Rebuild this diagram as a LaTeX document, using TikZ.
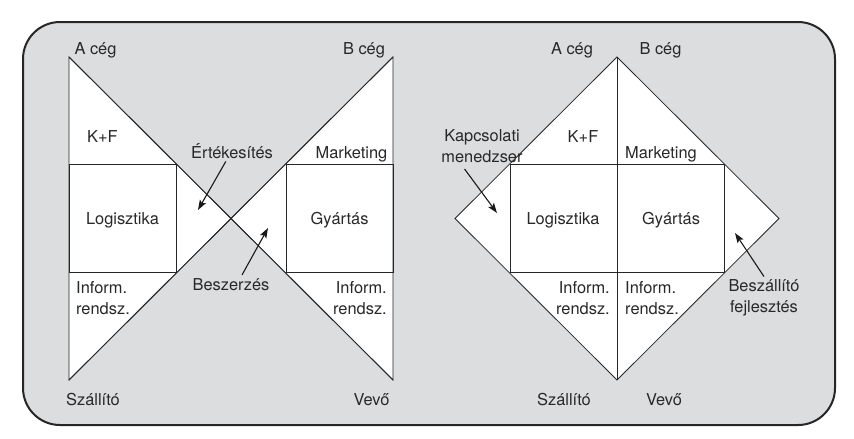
\documentclass[tikz,border=0pt]{standalone}
\usepackage{fontspec}
\setmainfont{TeX Gyre Heros}
\usetikzlibrary{arrows.meta,positioning}
\definecolor{bggray}{RGB}{220,221,223}
\definecolor{txtgray}{RGB}{40,40,40}

\begin{document}
\begin{tikzpicture}[x=1pt, y=-1pt,
  lbl/.style={font=\fontsize{16.4}{21}\selectfont, text=txtgray, inner sep=3pt},
  outerframe/.style={draw=black!85, line width=2pt, fill=bggray, rounded corners=37pt},
  whitearea/.style={draw=black!85, line width=0.8pt, fill=white},
  cutline/.style={draw=black!85, line width=0.8pt},
  arr/.style={-{Stealth[length=10pt,width=7pt,inset=2pt]}, line width=1.1pt, black!90}
]
\useasboundingbox (0,0) rectangle (854,439);
\draw[outerframe] (23,22) rectangle (835,425);

% left: two triangles crossing
\coordinate (lA) at (69,57);
\coordinate (lB) at (393,57);
\coordinate (lS) at (69,380);
\coordinate (lV) at (393,380);
\coordinate (lX) at (231,218.5);
\draw[whitearea] (lA) -- (lX) -- (lS) -- cycle;
\draw[whitearea] (lB) -- (lX) -- (lV) -- cycle;
\draw[cutline] (lA) -- (lV);
\draw[cutline] (lB) -- (lS);
\draw[cutline] (69,164) rectangle (176,272);
\draw[cutline] (286,164) rectangle (393,272);

% right: diamond
\coordinate (rT) at (617,57);
\coordinate (rR) at (779,218.5);
\coordinate (rB) at (617,380);
\coordinate (rL) at (455,218.5);
\draw[whitearea] (rT) -- (rR) -- (rB) -- (rL) -- cycle;
\draw[cutline] (rT) -- (rB);
\draw[cutline] (510,164) rectangle (724,272);

% left labels
\node[lbl, anchor=base] (acegL) at (95.5,54) {A cég};
\node[lbl, anchor=base] (bcegL) at (364,54) {B cég};
\node[lbl, anchor=base] (kfL) at (102.5,142) {K+F};
\node[lbl, anchor=base] (ert) at (232,158) {Értékesítés};
\node[lbl, anchor=base] (mktL) at (351.5,158) {Marketing};
\node[lbl, anchor=base] (logL) at (122.5,224) {Logisztika};
\node[lbl, anchor=base] (gyaL) at (339.5,224) {Gyártás};
\node[lbl, anchor=base] (besz) at (231,290) {Beszerzés};
\node[lbl, align=left, anchor=west] (infLl) at (73,298) {Inform.\\rendsz.};
\node[lbl, align=right, anchor=east] (infLr) at (390,298) {Inform.\\rendsz.};
\node[lbl, anchor=base] (szaL) at (93,405) {Szállító};
\node[lbl, anchor=base] (vevL) at (371.5,405) {Vevő};

% right labels
\node[lbl, anchor=base] (acegR) at (572,54) {A cég};
\node[lbl, anchor=base] (bcegR) at (660.5,54) {B cég};
\node[lbl, anchor=base] (kfR) at (583,142) {K+F};
\node[lbl, anchor=base] (mktR) at (661,158) {Marketing};
\node[lbl, align=center] (kap) at (482,146) {Kapcsolati\\menedzser};
\node[lbl, anchor=base] (logR) at (563,224) {Logisztika};
\node[lbl, anchor=base] (gyaR) at (671,224) {Gyártás};
\node[lbl, align=right, anchor=east] (infRl) at (613,298) {Inform.\\rendsz.};
\node[lbl, align=left, anchor=west] (infRr) at (622,298) {Inform.\\rendsz.};
\node[lbl, align=center] (bfej) at (764,298) {Beszállító\\fejlesztés};
\node[lbl, anchor=base] (szaR) at (564,405) {Szállító};
\node[lbl, anchor=base] (vevR) at (664,405) {Vevő};

% arrows
\coordinate (ertpt) at (198,210);
\coordinate (beszpt) at (268,228);
\coordinate (kappt) at (497,213);
\coordinate (bfejpt) at (735,233);
\draw[arr] (ert) -- (ertpt);
\draw[arr] (besz.40) -- (beszpt);
\draw[arr, shorten <=4pt] (kap.225) -- (kappt);
\draw[arr] (bfej.north) -- (bfejpt);
\end{tikzpicture}
\end{document}
